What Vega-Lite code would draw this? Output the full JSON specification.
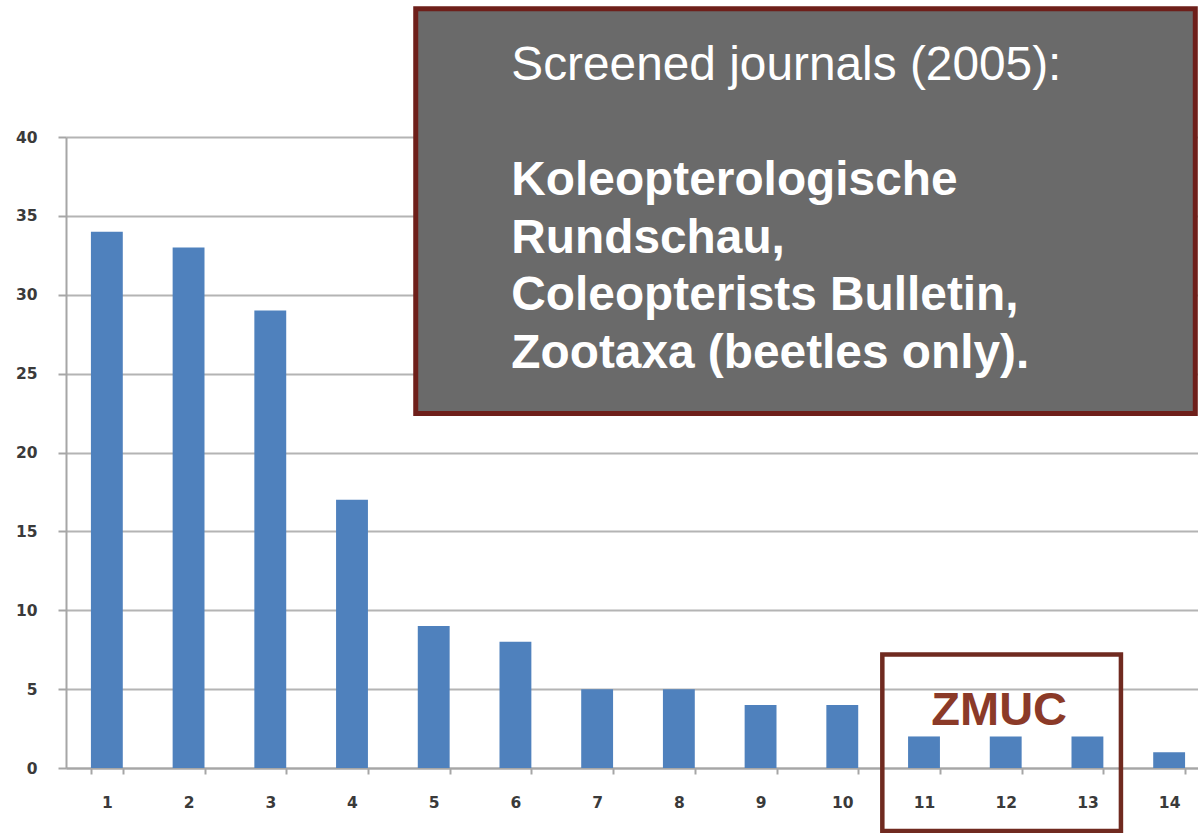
{
  "$schema": "https://vega.github.io/schema/vega-lite/v6.json",
  "autosize": {"type": "none"},
  "padding": {"left": 66, "top": 137, "right": 0, "bottom": 65},
  "width": 1132,
  "height": 631,
  "background": "white",
  "config": {"view": {"stroke": null}},
  "datasets": {
    "bars": [
      {"n": "1", "count": 34}, {"n": "2", "count": 33}, {"n": "3", "count": 29},
      {"n": "4", "count": 17}, {"n": "5", "count": 9}, {"n": "6", "count": 8},
      {"n": "7", "count": 5}, {"n": "8", "count": 5}, {"n": "9", "count": 4},
      {"n": "10", "count": 4}, {"n": "11", "count": 2}, {"n": "12", "count": 2},
      {"n": "13", "count": 2}, {"n": "14", "count": 1}
    ],
    "boxes": [
      {"name": "journals", "x1": 4.78, "x2": 14.32, "y1": 22.47, "y2": 48.13},
      {"name": "zmuc", "x1": 10.49, "x2": 13.41, "y1": -3.99, "y2": 7.19}
    ],
    "heading": [{"x": 5.95, "y": 43.6, "label": "Screened journals (2005):"}],
    "journals": [{"x": 5.95, "y": 36.31, "label": ["Koleopterologische", "Rundschau,", "Coleopterists Bulletin,", "Zootaxa (beetles only)."]}],
    "zmuc": [{"x": 11.92, "y": 2.72, "label": "ZMUC"}]
  },
  "layer": [
    {
      "data": {"name": "bars"},
      "mark": {"type": "bar", "color": "#4f81bd"},
      "encoding": {
        "x": {
          "field": "n", "type": "ordinal", "sort": null,
          "scale": {"range": [0, 1144], "paddingInner": 0.61, "paddingOuter": 0.305},
          "axis": {
            "title": null, "labelAngle": 0, "tickBand": "extent",
            "domainColor": "#a6a6a6", "domainWidth": 2,
            "tickColor": "#a6a6a6", "tickWidth": 2, "tickSize": 6,
            "labelFont": "DejaVu Sans", "labelFontSize": 15.5, "labelFontWeight": "bold", "labelColor": "#3a3a3a",
            "labelPadding": 21, "grid": false
          }
        },
        "y": {
          "field": "count", "type": "quantitative",
          "scale": {"domain": [0, 40], "nice": false},
          "axis": {
            "title": null, "values": [0, 5, 10, 15, 20, 25, 30, 35, 40],
            "domainColor": "#a6a6a6", "domainWidth": 2,
            "tickColor": "#a6a6a6", "tickWidth": 2, "tickSize": 8,
            "gridColor": "#b4b4b4", "gridWidth": 2,
            "labelFont": "DejaVu Sans", "labelFontSize": 15.5, "labelFontWeight": "bold", "labelColor": "#3a3a3a",
            "labelPadding": 21
          }
        }
      }
    },
    {
      "data": {"name": "boxes"},
      "transform": [{"filter": "datum.name === 'journals'"}],
      "mark": {"type": "rect", "fill": "#6a6a6a", "stroke": "#6e1f1a", "strokeWidth": 5, "clip": false},
      "encoding": {
        "x": {"field": "x1", "type": "quantitative", "scale": {"domain": [0.5, 14.5], "range": [0, 1144], "nice": false, "zero": false}, "axis": null},
        "x2": {"field": "x2"},
        "y": {"field": "y1", "type": "quantitative"},
        "y2": {"field": "y2"}
      }
    },
    {
      "data": {"name": "heading"},
      "mark": {"type": "text", "align": "left", "baseline": "alphabetic", "font": "Liberation Sans", "fontSize": 47.8, "fill": "white", "clip": false},
      "encoding": {
        "x": {"field": "x", "type": "quantitative", "scale": {"domain": [0.5, 14.5], "range": [0, 1144], "nice": false, "zero": false}, "axis": null},
        "y": {"field": "y", "type": "quantitative"},
        "text": {"field": "label"}
      }
    },
    {
      "data": {"name": "journals"},
      "mark": {"type": "text", "align": "left", "baseline": "alphabetic", "font": "Liberation Sans", "fontWeight": "bold", "fontSize": 47.8, "lineHeight": 57.5, "fill": "white", "clip": false},
      "encoding": {
        "x": {"field": "x", "type": "quantitative", "scale": {"domain": [0.5, 14.5], "range": [0, 1144], "nice": false, "zero": false}, "axis": null},
        "y": {"field": "y", "type": "quantitative"},
        "text": {"field": "label"}
      }
    },
    {
      "data": {"name": "boxes"},
      "transform": [{"filter": "datum.name === 'zmuc'"}],
      "mark": {"type": "rect", "fill": "transparent", "stroke": "#702a20", "strokeWidth": 4.5, "clip": false},
      "encoding": {
        "x": {"field": "x1", "type": "quantitative", "scale": {"domain": [0.5, 14.5], "range": [0, 1144], "nice": false, "zero": false}, "axis": null},
        "x2": {"field": "x2"},
        "y": {"field": "y1", "type": "quantitative"},
        "y2": {"field": "y2"}
      }
    },
    {
      "data": {"name": "zmuc"},
      "mark": {"type": "text", "align": "center", "baseline": "alphabetic", "font": "Liberation Sans", "fontWeight": "bold", "fontSize": 47, "fill": "#8b3a28", "clip": false},
      "encoding": {
        "x": {"field": "x", "type": "quantitative", "scale": {"domain": [0.5, 14.5], "range": [0, 1144], "nice": false, "zero": false}, "axis": null},
        "y": {"field": "y", "type": "quantitative"},
        "text": {"field": "label"}
      }
    }
  ],
  "resolve": {"scale": {"x": "independent"}, "axis": {"x": "independent"}}
}
